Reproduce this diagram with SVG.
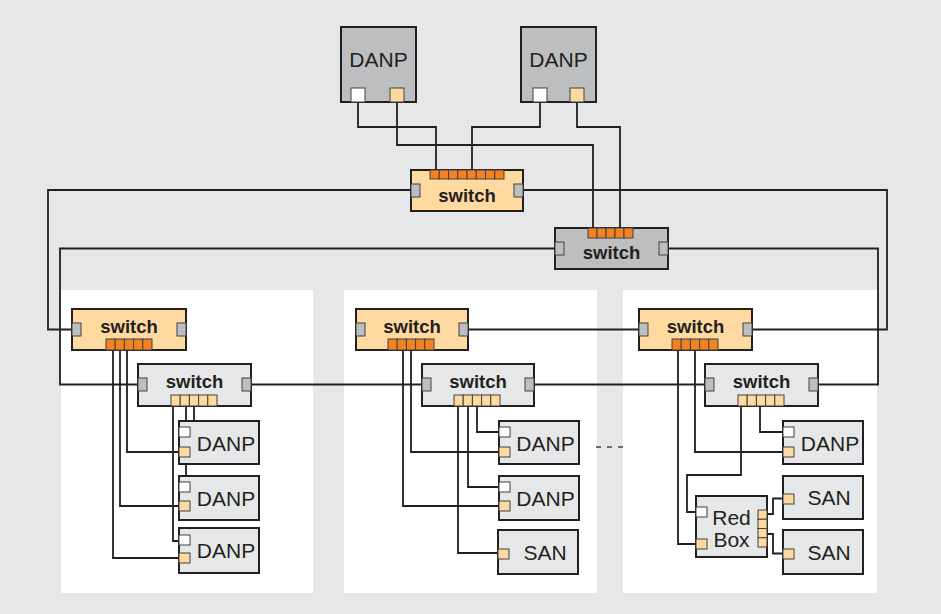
<svg xmlns="http://www.w3.org/2000/svg" width="941" height="614" viewBox="0 0 941 614">
<style>
.bg{fill:#e6e7e8}
.panel{fill:#ffffff}
.box{stroke:#231f20;stroke-width:2}
.g{fill:#bcbec0}
.l{fill:#e6e7e8}
.o{fill:#fed9a0}
.sp{fill:#bcbec0;stroke:#414042;stroke-width:1}
.cell{fill:#f58220;stroke:#414042;stroke-width:1}
.lcell{fill:#fed9a0;stroke:#414042;stroke-width:1}
.pw{fill:#ffffff;stroke:#414042;stroke-width:1}
.po{fill:#fed9a0;stroke:#414042;stroke-width:1}
.conn path{fill:none;stroke:#231f20;stroke-width:1.8}
.sw{font-family:"Liberation Sans",Arial,sans-serif;font-weight:bold;font-size:18.5px;fill:#231f20;text-anchor:middle}
.lb{font-family:"Liberation Sans",Arial,sans-serif;font-size:21px;fill:#231f20;text-anchor:middle}
</style>
<rect class="bg" x="0" y="0" width="941" height="614"/>
<rect class="panel" x="61" y="290" width="252" height="303"/>
<rect class="panel" x="344" y="290" width="253" height="303"/>
<rect class="panel" x="623" y="290" width="254" height="303"/>

<g id="connectors" class="conn">
<path d="M358 102V127H436V170"/>
<path d="M397 102V145H593V228"/>
<path d="M540 102V127H472V170"/>
<path d="M577 102V127H620V228"/>
<path d="M411 190H48V329.5H72"/>
<path d="M523 190H887V329.5H752"/>
<path d="M555 248.5H60V384.5H138"/>
<path d="M668 248.5H878V384.5H818"/>
<path d="M251 384.5H422"/>
<path d="M534 384.5H705"/>
<path d="M468 329.5H639"/>
<path d="M127 350V452H179"/>
<path d="M120 350V506H179"/>
<path d="M113 350V558H179"/>
<path d="M194 406V432H185"/>
<path d="M186 406V486H185"/>
<path d="M173 406V541H179"/>
<path d="M411 350V452H499"/>
<path d="M403 350V506H499"/>
<path d="M477 406V432H499"/>
<path d="M468 406V487H499"/>
<path d="M458 406V553H498"/>
<path d="M695 350V452H783"/>
<path d="M678 350V544H696"/>
<path d="M760 406V432H783"/>
<path d="M741 406V475H687V512H696"/>
<path d="M767 514H773V498.5H783"/>
<path d="M767 534H773V553.5H783"/>
<path d="M596 447H623" style="stroke:#414042;stroke-width:1.5;stroke-dasharray:5 6"/>
</g>

<g id="danp-top-left">
<rect class="box g" x="341" y="27" width="75" height="75"/>
<rect class="pw" x="351" y="88" width="14" height="14"/>
<rect class="po" x="390" y="88" width="14" height="14"/>
<text class="lb" x="378.5" y="67">DANP</text>
</g>
<g id="danp-top-right">
<rect class="box g" x="521" y="27" width="75" height="75"/>
<rect class="pw" x="533" y="88" width="14" height="14"/>
<rect class="po" x="570" y="88" width="14" height="14"/>
<text class="lb" x="558.5" y="67">DANP</text>
</g>

<g id="switch-top-orange">
<rect class="box o" x="411" y="170" width="112" height="41"/>
<rect class="cell" x="430" y="170" width="9.25" height="9"/>
<rect class="cell" x="439.25" y="170" width="9.25" height="9"/>
<rect class="cell" x="448.5" y="170" width="9.25" height="9"/>
<rect class="cell" x="457.75" y="170" width="9.25" height="9"/>
<rect class="cell" x="467" y="170" width="9.25" height="9"/>
<rect class="cell" x="476.25" y="170" width="9.25" height="9"/>
<rect class="cell" x="485.5" y="170" width="9.25" height="9"/>
<rect class="cell" x="494.75" y="170" width="9.25" height="9"/>
<rect class="sp" x="411" y="184" width="9" height="13"/>
<rect class="sp" x="514" y="184" width="9" height="13"/>
<text class="sw" x="467" y="202">switch</text>
</g>

<g id="switch-top-gray">
<rect class="box g" x="555" y="228" width="113" height="41"/>
<rect class="cell" x="588" y="228" width="9" height="10"/>
<rect class="cell" x="597" y="228" width="9" height="10"/>
<rect class="cell" x="606" y="228" width="9" height="10"/>
<rect class="cell" x="615" y="228" width="9" height="10"/>
<rect class="cell" x="624" y="228" width="9" height="10"/>
<rect class="sp" x="555" y="242" width="9" height="13"/>
<rect class="sp" x="659" y="242" width="9" height="13"/>
<text class="sw" x="611.5" y="259">switch</text>
</g>

<!-- left panel -->
<g id="switch-left-orange">
<rect class="box o" x="72" y="309" width="114" height="41"/>
<rect class="cell" x="106" y="339" width="9.2" height="11"/>
<rect class="cell" x="115.2" y="339" width="9.2" height="11"/>
<rect class="cell" x="124.4" y="339" width="9.2" height="11"/>
<rect class="cell" x="133.6" y="339" width="9.2" height="11"/>
<rect class="cell" x="142.8" y="339" width="9.2" height="11"/>
<rect class="sp" x="72" y="323" width="9" height="13"/>
<rect class="sp" x="177" y="323" width="9" height="13"/>
<text class="sw" x="129" y="333">switch</text>
</g>
<g id="switch-left-gray">
<rect class="box l" x="138" y="364" width="113" height="42"/>
<rect class="lcell" x="171" y="395" width="9.2" height="11"/>
<rect class="lcell" x="180.2" y="395" width="9.2" height="11"/>
<rect class="lcell" x="189.4" y="395" width="9.2" height="11"/>
<rect class="lcell" x="198.6" y="395" width="9.2" height="11"/>
<rect class="lcell" x="207.8" y="395" width="9.2" height="11"/>
<rect class="sp" x="138" y="378" width="9" height="13"/>
<rect class="sp" x="242" y="378" width="9" height="13"/>
<text class="sw" x="194.5" y="388">switch</text>
</g>
<g id="danp-left-1">
<rect class="box l" x="179" y="421" width="80" height="43"/>
<rect class="pw" x="179" y="427" width="11" height="10"/>
<rect class="po" x="179" y="447" width="11" height="10"/>
<text class="lb" x="226" y="451">DANP</text>
</g>
<g id="danp-left-2">
<rect class="box l" x="179" y="476" width="80" height="44"/>
<rect class="pw" x="179" y="482" width="11" height="10"/>
<rect class="po" x="179" y="501" width="11" height="10"/>
<text class="lb" x="226" y="506">DANP</text>
</g>
<g id="danp-left-3">
<rect class="box l" x="179" y="528" width="80" height="45"/>
<rect class="pw" x="179" y="535" width="11" height="10"/>
<rect class="po" x="179" y="553" width="11" height="10"/>
<text class="lb" x="226" y="558">DANP</text>
</g>

<!-- middle panel -->
<g id="switch-mid-orange">
<rect class="box o" x="356" y="309" width="112" height="41"/>
<rect class="cell" x="388" y="339" width="9.2" height="11"/>
<rect class="cell" x="397.2" y="339" width="9.2" height="11"/>
<rect class="cell" x="406.4" y="339" width="9.2" height="11"/>
<rect class="cell" x="415.6" y="339" width="9.2" height="11"/>
<rect class="cell" x="424.8" y="339" width="9.2" height="11"/>
<rect class="sp" x="356" y="323" width="9" height="13"/>
<rect class="sp" x="459" y="323" width="9" height="13"/>
<text class="sw" x="412" y="333">switch</text>
</g>
<g id="switch-mid-gray">
<rect class="box l" x="422" y="364" width="112" height="42"/>
<rect class="lcell" x="454" y="395" width="9.2" height="11"/>
<rect class="lcell" x="463.2" y="395" width="9.2" height="11"/>
<rect class="lcell" x="472.4" y="395" width="9.2" height="11"/>
<rect class="lcell" x="481.6" y="395" width="9.2" height="11"/>
<rect class="lcell" x="490.8" y="395" width="9.2" height="11"/>
<rect class="sp" x="422" y="378" width="9" height="13"/>
<rect class="sp" x="525" y="378" width="9" height="13"/>
<text class="sw" x="478" y="388">switch</text>
</g>
<g id="danp-mid-1">
<rect class="box l" x="499" y="421" width="80" height="43"/>
<rect class="pw" x="499" y="427" width="11" height="10"/>
<rect class="po" x="499" y="447" width="11" height="10"/>
<text class="lb" x="545.5" y="451">DANP</text>
</g>
<g id="danp-mid-2">
<rect class="box l" x="499" y="476" width="80" height="44"/>
<rect class="pw" x="499" y="482" width="11" height="10"/>
<rect class="po" x="499" y="501" width="11" height="10"/>
<text class="lb" x="545.5" y="506">DANP</text>
</g>
<g id="san-mid">
<rect class="box l" x="498" y="530" width="80" height="44"/>
<rect class="po" x="498" y="549" width="11" height="10"/>
<text class="lb" x="545" y="560">SAN</text>
</g>

<!-- right panel -->
<g id="switch-right-orange">
<rect class="box o" x="639" y="309" width="113" height="41"/>
<rect class="cell" x="672" y="339" width="9.2" height="11"/>
<rect class="cell" x="681.2" y="339" width="9.2" height="11"/>
<rect class="cell" x="690.4" y="339" width="9.2" height="11"/>
<rect class="cell" x="699.6" y="339" width="9.2" height="11"/>
<rect class="cell" x="708.8" y="339" width="9.2" height="11"/>
<rect class="sp" x="639" y="323" width="9" height="13"/>
<rect class="sp" x="743" y="323" width="9" height="13"/>
<text class="sw" x="695.5" y="333">switch</text>
</g>
<g id="switch-right-gray">
<rect class="box l" x="705" y="364" width="113" height="42"/>
<rect class="lcell" x="738" y="395" width="9.2" height="11"/>
<rect class="lcell" x="747.2" y="395" width="9.2" height="11"/>
<rect class="lcell" x="756.4" y="395" width="9.2" height="11"/>
<rect class="lcell" x="765.6" y="395" width="9.2" height="11"/>
<rect class="lcell" x="774.8" y="395" width="9.2" height="11"/>
<rect class="sp" x="705" y="378" width="9" height="13"/>
<rect class="sp" x="809" y="378" width="9" height="13"/>
<text class="sw" x="761.5" y="388">switch</text>
</g>
<g id="danp-right">
<rect class="box l" x="783" y="421" width="80" height="43"/>
<rect class="pw" x="783" y="427" width="11" height="10"/>
<rect class="po" x="783" y="447" width="11" height="10"/>
<text class="lb" x="830" y="451">DANP</text>
</g>
<g id="san-right-1">
<rect class="box l" x="783" y="476" width="80" height="43"/>
<rect class="po" x="783" y="494" width="11" height="10"/>
<text class="lb" x="829" y="505">SAN</text>
</g>
<g id="san-right-2">
<rect class="box l" x="783" y="530" width="80" height="44"/>
<rect class="po" x="783" y="549" width="11" height="10"/>
<text class="lb" x="829" y="560">SAN</text>
</g>
<g id="redbox">
<rect class="box l" x="696" y="496" width="71" height="61"/>
<rect class="pw" x="696" y="507" width="11" height="10"/>
<rect class="po" x="696" y="539" width="11" height="10"/>
<rect class="po" x="758" y="510" width="9" height="9.25"/>
<rect class="po" x="758" y="519.25" width="9" height="9.25"/>
<rect class="po" x="758" y="528.5" width="9" height="9.25"/>
<rect class="po" x="758" y="537.75" width="9" height="9.25"/>
<text class="lb" x="731.5" y="525">Red</text>
<text class="lb" x="731.5" y="547">Box</text>
</g>
</svg>
